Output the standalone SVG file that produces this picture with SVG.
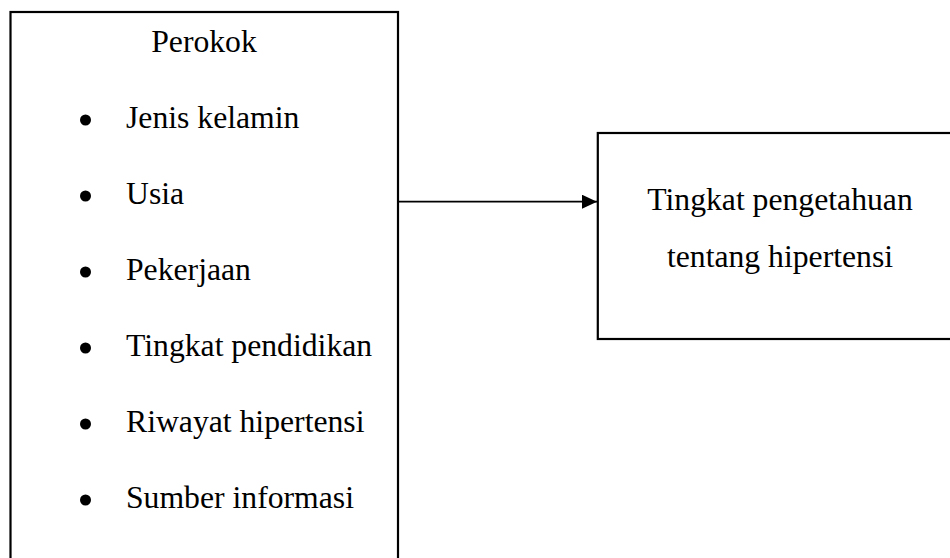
<svg xmlns="http://www.w3.org/2000/svg" width="950" height="558" viewBox="0 0 950 558">
  <defs>
    <style>
      .box { fill: #ffffff; stroke: #000000; stroke-width: 2.2; }
      .t { font-family: "Liberation Serif", "Times New Roman", serif; font-size: 31.7px; fill: #000000; }
      .c { text-anchor: middle; }
      .bullet { fill: #000000; }
      .conn { stroke: #000000; stroke-width: 1.8; fill: none; }
    </style>
    <marker id="arrow" markerWidth="16" markerHeight="14" refX="15" refY="7" orient="auto" markerUnits="userSpaceOnUse">
      <polygon points="0,0 15,7 0,14" fill="#000000"/>
    </marker>
  </defs>
  <rect width="950" height="558" fill="#ffffff"/>
  <g id="perokok">
    <rect class="box" x="10.5" y="12" width="387.5" height="560"/>
    <text class="t c" x="204" y="52">Perokok</text>
    <circle class="bullet" cx="85.5" cy="120" r="5.5"/>
    <text class="t" x="126" y="128">Jenis kelamin</text>
    <circle class="bullet" cx="85.5" cy="196" r="5.5"/>
    <text class="t" x="126" y="204">Usia</text>
    <circle class="bullet" cx="85.5" cy="272" r="5.5"/>
    <text class="t" x="126" y="280">Pekerjaan</text>
    <circle class="bullet" cx="85.5" cy="348" r="5.5"/>
    <text class="t" x="126" y="356">Tingkat pendidikan</text>
    <circle class="bullet" cx="85.5" cy="424" r="5.5"/>
    <text class="t" x="126" y="432">Riwayat hipertensi</text>
    <circle class="bullet" cx="85.5" cy="500" r="5.5"/>
    <text class="t" x="126" y="508">Sumber informasi</text>
  </g>
  <g id="pengetahuan">
    <rect class="box" x="597.8" y="133" width="370" height="206"/>
    <text class="t c" x="780" y="210">Tingkat pengetahuan</text>
    <text class="t c" x="780" y="267">tentang hipertensi</text>
  </g>
  <g id="connectors">
    <line class="conn" x1="398" y1="201.7" x2="597" y2="201.7" marker-end="url(#arrow)"/>
  </g>
</svg>
